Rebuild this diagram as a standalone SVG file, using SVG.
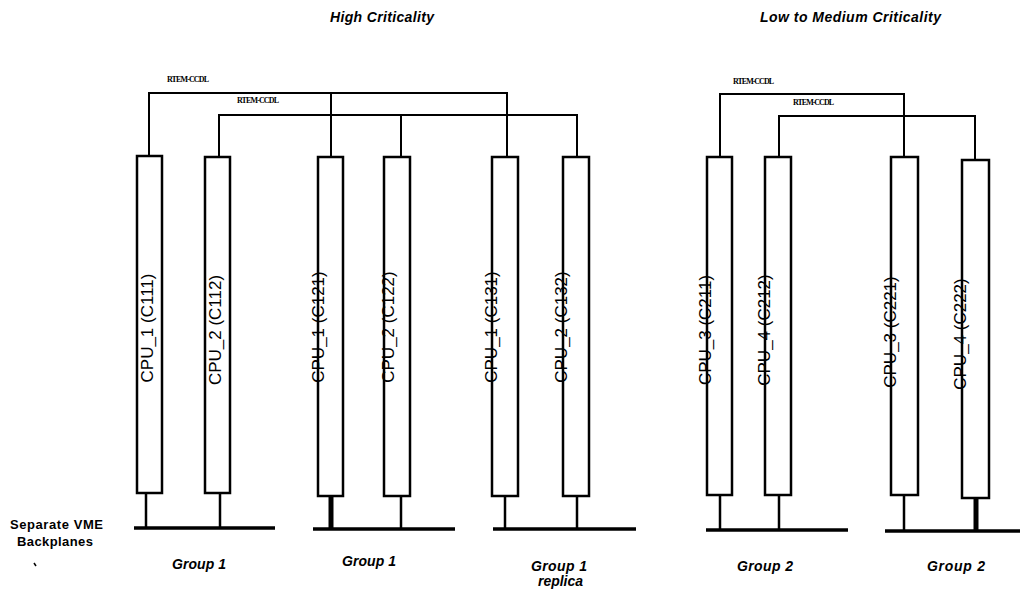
<svg xmlns="http://www.w3.org/2000/svg" width="1020" height="593" viewBox="0 0 1020 593">
  <style>
    .title { font-family: "Liberation Sans", Arial, sans-serif; font-size: 14px; font-weight: bold; font-style: italic; fill: #000; }
    .group { font-family: "Liberation Sans", Arial, sans-serif; font-size: 14px; font-weight: bold; font-style: italic; fill: #000; }
    .side { font-family: "Liberation Sans", Arial, sans-serif; font-size: 13px; font-weight: bold; fill: #000; }
    .bus-label { font-family: "Liberation Serif", "Times New Roman", serif; font-size: 8px; font-weight: bold; fill: #000; }
    .cpu-label { font-family: "Liberation Sans", Arial, sans-serif; font-size: 17px; fill: #000; }
    .box { fill: #fff; stroke: #000; stroke-width: 2.5; }
    .link { fill: none; stroke: #000; stroke-width: 2; }
    .bus { fill: none; stroke: #000; stroke-width: 3.5; }
    .stub { fill: none; stroke: #000; stroke-width: 2.5; }
    .stub-heavy { fill: none; stroke: #000; stroke-width: 5; }
  </style>

  <rect width="1020" height="593" fill="#fff"/>

  <!-- section headings -->
  <text class="title" x="330" y="22" textLength="104">High Criticality</text>
  <text class="title" x="760" y="22" textLength="181">Low to Medium Criticality</text>

  <!-- RTEM-CCDL cross-channel links -->
  <g id="connectors">
    <!-- high criticality: two link rings -->
    <polyline class="link" points="149,157 149,93 507,93 507,157"/>
    <line class="link" x1="331" y1="93" x2="331" y2="157"/>
    <polyline class="link" points="219,157 219,115 577,115 577,157"/>
    <line class="link" x1="401" y1="115" x2="401" y2="157"/>
    <text class="bus-label" x="167" y="82" textLength="42">RTEM-CCDL</text>
    <text class="bus-label" x="237" y="103" textLength="42">RTEM-CCDL</text>

    <!-- low to medium criticality -->
    <polyline class="link" points="720,157 720,94 904,94 904,157"/>
    <polyline class="link" points="779,157 779,116 975,116 975,160"/>
    <text class="bus-label" x="733" y="84" textLength="41">RTEM-CCDL</text>
    <text class="bus-label" x="793" y="105" textLength="41">RTEM-CCDL</text>
  </g>

  <!-- CPU modules -->
  <g id="cpu-c111">
    <rect class="box" x="137" y="156" width="25" height="337"/>
    <text class="cpu-label" transform="translate(153,328) rotate(-90)" text-anchor="middle">CPU_1 (C111)</text>
  </g>
  <g id="cpu-c112">
    <rect class="box" x="205" y="157" width="25" height="336"/>
    <text class="cpu-label" transform="translate(221,330) rotate(-90)" text-anchor="middle">CPU_2 (C112)</text>
  </g>
  <g id="cpu-c121">
    <rect class="box" x="318" y="157" width="25" height="339"/>
    <text class="cpu-label" transform="translate(324,327) rotate(-90)" text-anchor="middle">CPU_1 (C121)</text>
  </g>
  <g id="cpu-c122">
    <rect class="box" x="384" y="157" width="26" height="339"/>
    <text class="cpu-label" transform="translate(394,327) rotate(-90)" text-anchor="middle">CPU_2 (C122)</text>
  </g>
  <g id="cpu-c131">
    <rect class="box" x="492" y="157" width="26" height="339"/>
    <text class="cpu-label" transform="translate(497,327) rotate(-90)" text-anchor="middle">CPU_1 (C131)</text>
  </g>
  <g id="cpu-c132">
    <rect class="box" x="563" y="157" width="26" height="339"/>
    <text class="cpu-label" transform="translate(567,327) rotate(-90)" text-anchor="middle">CPU_2 (C132)</text>
  </g>
  <g id="cpu-c211">
    <rect class="box" x="707" y="157" width="25" height="338"/>
    <text class="cpu-label" transform="translate(711,330) rotate(-90)" text-anchor="middle">CPU_3 (C211)</text>
  </g>
  <g id="cpu-c212">
    <rect class="box" x="765" y="157" width="26" height="338"/>
    <text class="cpu-label" transform="translate(770,330) rotate(-90)" text-anchor="middle">CPU_4 (C212)</text>
  </g>
  <g id="cpu-c221">
    <rect class="box" x="891" y="157" width="27" height="338"/>
    <text class="cpu-label" transform="translate(896,332) rotate(-90)" text-anchor="middle">CPU_3 (C221)</text>
  </g>
  <g id="cpu-c222">
    <rect class="box" x="962" y="160" width="27" height="338"/>
    <text class="cpu-label" transform="translate(966,334) rotate(-90)" text-anchor="middle">CPU_4 (C222)</text>
  </g>

  <!-- VME backplanes -->
  <g id="backplane-group1">
    <line class="stub" x1="146" y1="493" x2="146" y2="528"/>
    <line class="stub" x1="220" y1="493" x2="220" y2="528"/>
    <line class="bus" x1="134" y1="528" x2="275" y2="528"/>
    <text class="group" x="172" y="569" textLength="54">Group 1</text>
  </g>
  <g id="backplane-group1b">
    <line class="stub-heavy" x1="331" y1="496" x2="331" y2="529"/>
    <line class="stub" x1="401" y1="496" x2="401" y2="529"/>
    <line class="bus" x1="313" y1="529" x2="455" y2="529"/>
    <text class="group" x="342" y="566" textLength="54">Group 1</text>
  </g>
  <g id="backplane-group1-replica">
    <line class="stub" x1="505" y1="496" x2="505" y2="529"/>
    <line class="stub" x1="577" y1="496" x2="577" y2="529"/>
    <line class="bus" x1="493" y1="529" x2="636" y2="529"/>
    <text class="group" x="531" y="571" textLength="56">Group 1</text>
    <text class="group" x="538" y="586" textLength="45">replica</text>
  </g>
  <g id="backplane-group2">
    <line class="stub" x1="720" y1="495" x2="720" y2="530"/>
    <line class="stub" x1="779" y1="495" x2="779" y2="530"/>
    <line class="bus" x1="706" y1="530" x2="848" y2="530"/>
    <text class="group" x="737" y="571" textLength="56">Group 2</text>
  </g>
  <g id="backplane-group2b">
    <line class="stub" x1="904" y1="495" x2="904" y2="531"/>
    <line class="stub-heavy" x1="976" y1="498" x2="976" y2="531"/>
    <line class="bus" x1="885" y1="531" x2="1020" y2="531"/>
    <text class="group" x="927" y="571" textLength="58">Group 2</text>
  </g>

  <!-- side caption -->
  <g id="caption">
    <text class="side" x="10" y="529" textLength="93">Separate VME</text>
    <text class="side" x="17" y="546" textLength="76">Backplanes</text>
    <line x1="34" y1="563" x2="36" y2="566" stroke="#000" stroke-width="1.5"/>
  </g>
</svg>
